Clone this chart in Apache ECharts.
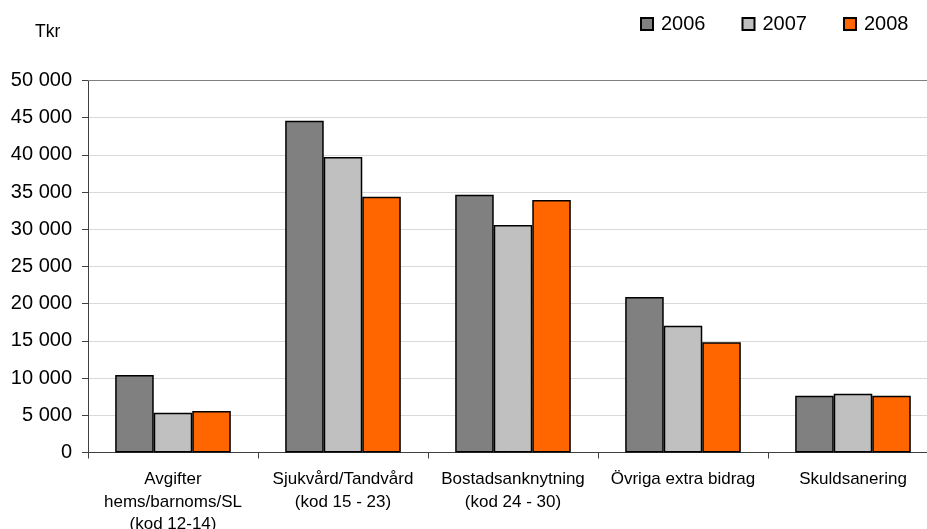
<!DOCTYPE html>
<html><head><meta charset="utf-8">
<script src="https://cdn.jsdelivr.net/npm/echarts@6/dist/echarts.min.js"></script>
<style>html,body{margin:0;padding:0;background:#fff;overflow:hidden}#c{width:927px;height:529px}</style>
</head><body><div id="c"></div>
<script>
const categories = ['Avgifter\nhems/barnoms/SL\n(kod 12-14)', 'Sjukvård/Tandvård\n(kod 15 - 23)', 'Bostadsanknytning\n(kod 24 - 30)', 'Övriga extra bidrag', 'Skuldsanering'];
const seriesNames = ['2006', '2007', '2008'];
const v2006 = [10400, 44600, 34650, 20900, 7630];
const v2007 = [5350, 39720, 30580, 17040, 7900];
const v2008 = [5580, 34380, 33940, 14810, 7630];
const yMax = 50000;
const colors = ['#808080', '#c0c0c0', '#ff6600'];
const values = [v2006, v2007, v2008];
const FONT = '"Liberation Sans", Arial, sans-serif';
const fmt = v => String(v).replace(/\B(?=(\d{3})+(?!\d))/g, ' ');
const chart = echarts.init(document.getElementById('c'), null, {renderer: 'canvas', width: 927, height: 529});
chart.setOption({
  animation: false,
  textStyle: {fontFamily: FONT},
  graphic: [{type: 'text', left: 35, top: 23, style: {text: 'Tkr', font: '17.5px ' + FONT, fill: '#000'}}],
  legend: {
    left: 635, top: 9, itemWidth: 12, itemHeight: 12, itemGap: 36,
    icon: 'rect',
    textStyle: {fontSize: 20, color: '#000', fontFamily: FONT, padding: [0, 0, 0, 3]},
    data: seriesNames
  },
  grid: {left: 88, top: 80.5, width: 850, height: 372, containLabel: false, outerBoundsMode: 'none'},
  xAxis: {
    type: 'category', data: categories,
    axisLine: {lineStyle: {color: '#404040', width: 1}},
    axisTick: {show: true, length: 6, lineStyle: {color: '#404040'}},
    axisLabel: {fontSize: 17, color: '#000', lineHeight: 22.5, margin: 16, interval: 0, fontFamily: FONT}
  },
  yAxis: {
    type: 'value', min: 0, max: yMax, interval: 5000,
    axisLine: {show: true, lineStyle: {color: '#404040', width: 1}},
    axisTick: {show: true, length: 6, lineStyle: {color: '#404040'}},
    axisLabel: {fontSize: 20, color: '#000', margin: 16, formatter: fmt, fontFamily: FONT},
    splitLine: {show: true, lineStyle: {color: '#d9d9d9', width: 1}}
  },
  series: seriesNames.map((n, i) => ({
    name: n, type: 'bar', data: values[i],
    barGap: '0%', barCategoryGap: '32%',
    itemStyle: {color: colors[i], borderColor: '#000', borderWidth: 1.5},
    markLine: i === 0 ? {silent: true, symbol: 'none', label: {show: false},
      lineStyle: {color: '#808080', type: 'solid', width: 1.2}, data: [{yAxis: yMax}]} : undefined
  }))
});
</script></body></html>
